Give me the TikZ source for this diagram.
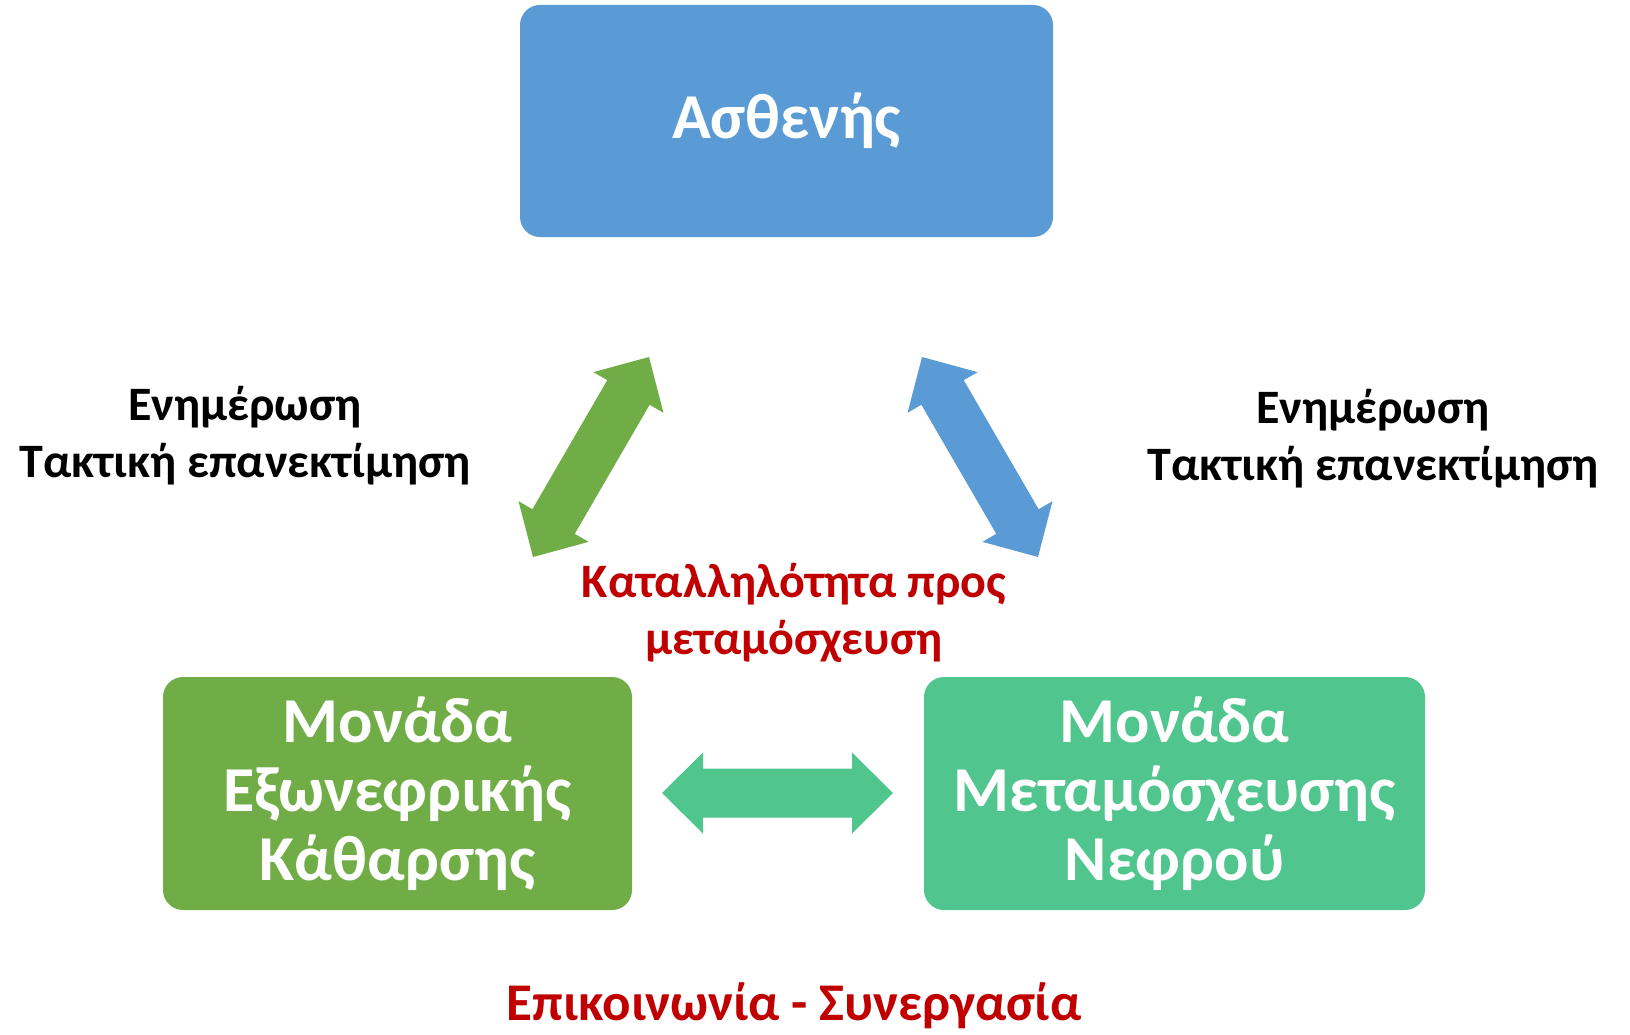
\documentclass[tikz,border=0pt]{standalone}
\usepackage{fontspec}
\setmainfont{Carlito}
\usetikzlibrary{calc}
\definecolor{cblue}{HTML}{5B9BD5}
\definecolor{cgreen}{HTML}{70AD47}
\definecolor{cteal}{HTML}{50C58E}
\definecolor{cred}{HTML}{C00000}
\newcommand{\fatarrow}[3]{%
  \path ($(#1)!41pt!(#2)$) coordinate (ba)
        ($(#2)!41pt!(#1)$) coordinate (bb);
  \fill[#3] (#1) -- ($(ba)!40.5pt!90:(#2)$) -- ($(ba)!24.5pt!90:(#2)$)
    -- ($(bb)!24.5pt!-90:(#1)$) -- ($(bb)!40.5pt!-90:(#1)$) -- (#2)
    -- ($(bb)!40.5pt!90:(#1)$) -- ($(bb)!24.5pt!90:(#1)$)
    -- ($(ba)!24.5pt!-90:(#2)$) -- ($(ba)!40.5pt!-90:(#2)$) -- cycle;}
\tikzset{
  box/.style={rounded corners=20pt, draw=none, text=white, align=center,
    font=\bfseries\fontsize{64}{69}\selectfont, inner sep=0pt},
  lbl/.style={align=center, font=\bfseries\fontsize{48}{57}\selectfont, inner sep=0pt},
  redlbl/.style={lbl, text=cred},
}
\begin{document}
\begin{tikzpicture}[x=1pt,y=-1pt]
\useasboundingbox (0,0) rectangle (1630,1035);
\node[box, fill=cblue, minimum width=533pt, minimum height=232pt] (pat) at (786.5,121) {Ασθενής};
\node[box, fill=cgreen, minimum width=469pt, minimum height=233pt] (dial) at (397.5,793.5) {Μονάδα\\Εξωνεφρικής\\Κάθαρσης};
\node[box, fill=cteal, minimum width=501pt, minimum height=233pt] (trans) at (1174.5,793.5) {Μονάδα\\Μεταμόσχευσης\\Νεφρού};
\node[lbl] (left) at (245,436) {Ενημέρωση\\Τακτική επανεκτίμηση};
\node[lbl] (right) at (1373,438.5) {Ενημέρωση\\Τακτική επανεκτίμηση};
\node[redlbl] (mid) at (794,612.5) {Καταλληλότητα προς\\μεταμόσχευση};
\node[redlbl, font=\bfseries\fontsize{53}{60}\selectfont] (comm) at (794,1006) {Επικοινωνία - Συνεργασία};
\coordinate (g1) at (533,557);
\coordinate (g2) at (649,357);
\coordinate (b1) at (922,357);
\coordinate (b2) at (1038,557);
\coordinate (h1) at (662,793);
\coordinate (h2) at (893,793);
\fatarrow{g1}{g2}{cgreen}
\fatarrow{b1}{b2}{cblue}
\fatarrow{h1}{h2}{cteal}
\end{tikzpicture}
\end{document}
